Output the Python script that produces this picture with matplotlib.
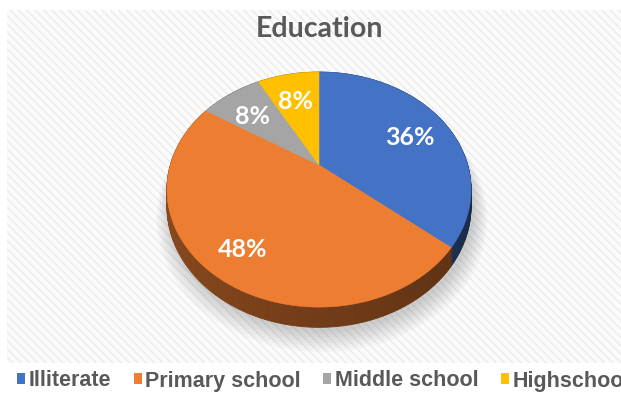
import numpy as np
import matplotlib.pyplot as plt
from matplotlib.patches import Polygon, Rectangle, Patch

categories = ["Illiterate", "Primary school", "Middle school", "Highschool"]
shares = [36, 48, 8, 8]
pct_labels = ["36%", "48%", "8%", "8%"]
colors = ["#4472C4", "#ED7D31", "#A5A5A5", "#FFC000"]
title = "Education"

W, H = 621, 395
plt.rcParams["hatch.color"] = "#ececec"
plt.rcParams["hatch.linewidth"] = 1.0

fig = plt.figure(figsize=(W / 100, H / 100), dpi=100)
ax = fig.add_axes([0, 0, 1, 1])
ax.set_xlim(0, W)
ax.set_ylim(H, 0)
ax.axis("off")

# striped chart-area background
ax.add_patch(Rectangle((7, 10), W - 7, 353, facecolor="#fbfbfb",
                       edgecolor="#ececec", linewidth=0, hatch="\\\\\\\\", zorder=0))

# pie geometry (pixels), simple perspective tilt
cx, cy = 319, 165
rx, ry = 148.7, 112.4
k = 0.209
depth = 16


def project(u, v, drop=0.0):
    w = 1 - k * v
    return cx + rx * u / w, cy + ry * v / w + drop / w


def arc(t0, t1, r=1.0, drop=0.0, n=None):
    n = n or max(int(abs(t1 - t0) * 180 / np.pi), 2)
    t = np.linspace(t0, t1, n)
    return [project(r * np.sin(a), -r * np.cos(a), drop) for a in t]


def darker(c, f):
    rgb = np.array([int(c[i:i + 2], 16) for i in (1, 3, 5)]) / 255
    return tuple(rgb * f)


fr = np.array(shares) / sum(shares)
edges = np.concatenate([[0], np.cumsum(fr)]) * 2 * np.pi

# soft shadow
for i in range(8):
    pts = arc(0, 2 * np.pi, r=1.0 + i * 0.012, drop=depth + 2, n=240)
    pts = [(x + 3, y + 2 + i * 0.6) for x, y in pts]
    ax.add_patch(Polygon(pts, closed=True, facecolor="black", alpha=0.025,
                         linewidth=0, zorder=1))

# side of the pie, back to front
side = []
for i, c in enumerate(colors):
    t = np.linspace(edges[i], edges[i + 1], max(int(fr[i] * 360), 2) + 1)
    for a, b in zip(t[:-1], t[1:]):
        u, v = np.sin((a + b) / 2), -np.cos((a + b) / 2)
        top = arc(a, b, n=2)
        bot = arc(b, a, drop=depth, n=2)
        shade = 0.58 - 0.2 * (u + 1) / 2
        side.append((v, top + bot, darker(c, shade)))
side.sort(key=lambda s: s[0])
for v, pts, col in side:
    ax.add_patch(Polygon(pts, closed=True, facecolor=col, edgecolor=col,
                         linewidth=0.6, zorder=2))

# top face
for i, c in enumerate(colors):
    pts = [project(0, 0)] + arc(edges[i], edges[i + 1])
    ax.add_patch(Polygon(pts, closed=True, facecolor=c, edgecolor=c,
                         linewidth=0.4, zorder=3))

# percentage labels
for i, lab in enumerate(pct_labels):
    m = (edges[i] + edges[i + 1]) / 2
    f = 0.76 if shares[i] > 40 else 0.72
    x, y = project(f * np.sin(m), -f * np.cos(m))
    ax.text(x, y + 5, lab, color="white", fontsize=18, fontweight="bold",
            family="Lato", ha="center", va="center", zorder=5)

ax.text(319, 37, title, color="#595959", fontsize=20.5, fontweight="bold",
        family="Lato", ha="center", va="baseline")

handles = [Patch(facecolor=c, edgecolor="none") for c in colors]
fig.legend(handles, categories, loc="center left",
           bbox_to_anchor=(17 / W, 1 - 381 / H), ncol=4, frameon=False,
           prop={"family": "Liberation Sans", "weight": "bold", "size": 15.5},
           labelcolor="#595959", handlelength=0.38, handleheight=0.38,
           handletextpad=0.15, columnspacing=1.05, borderpad=0,
           borderaxespad=0)

fig.savefig("out.png", dpi=100, facecolor="white")
